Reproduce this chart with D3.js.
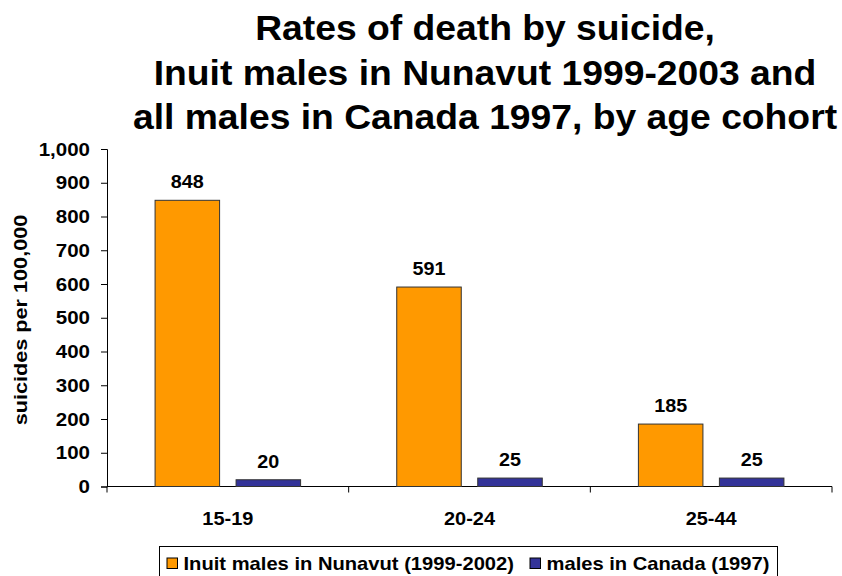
<!DOCTYPE html>
<html><head><meta charset="utf-8">
<script src="https://cdn.jsdelivr.net/npm/d3@7"></script>
<style>body{margin:0;background:#fff}svg{display:block}text{font-family:"Liberation Sans",Arial,sans-serif;font-weight:bold;fill:#000}</style>
</head><body>
<script>
const categories = ["15-19", "20-24", "25-44"];
const seriesNames = ["Inuit males in Nunavut (1999-2002)", "males in Canada (1997)"];
const inuitValues = [848, 591, 185];
const canadaValues = [20, 25, 25];
const yTicks = [0, 100, 200, 300, 400, 500, 600, 700, 800, 900, 1000];
const titleLines = ["Rates of death by suicide,", "Inuit males in Nunavut 1999-2003 and", "all males in Canada 1997, by age cohort"];
const colors = ["#FF9900", "#333399"];

const W = 842, H = 576;
const svg = d3.select("body").append("svg").attr("width", W).attr("height", H);

const x0 = 107, x1 = 832, yB = 486.5, yT = 149;
const x = d3.scaleBand().domain(categories).range([x0, x1]).padding(0);
const y = d3.scaleLinear().domain([0, 1000]).range([yB, yT]);

// helper: stretched text
function stext(sel, px, py, s) {
  return sel.attr("x", 0).attr("y", 0)
    .attr("transform", (d, i) => `translate(${typeof px === "function" ? px(d, i) : px},${typeof py === "function" ? py(d, i) : py}) scale(${s},1)`);
}

// title
stext(svg.append("g").selectAll("text").data(titleLines).join("text"),
  485, (d, i) => 40 + i * 44.5, 1.065)
  .attr("text-anchor", "middle").style("font-size", "35px").text(d => d);

// y axis
const tickS = 1.08;
const yAxis = d3.axisLeft(y).tickValues(yTicks).tickSize(6).tickPadding(11).tickFormat(d3.format(","));
const gy = svg.append("g").attr("transform", `translate(${x0},0)`).call(yAxis);
gy.select(".domain").attr("stroke", "#000");
gy.selectAll(".tick line").attr("stroke", "#000");
gy.selectAll(".tick text")
  .attr("x", -17 / tickS).attr("transform", `scale(${tickS},1)`)
  .style("font-size", "19px").style("font-family", '"Liberation Sans",Arial,sans-serif').attr("fill", "#000");

// x axis
const gx = svg.append("g").attr("transform", `translate(0,${yB})`);
gx.append("line").attr("x1", x0).attr("x2", x1).attr("stroke", "#000");
const bounds = categories.map(c => x(c)).concat([x1]);
gx.selectAll("line.tk").data(bounds).join("line").attr("class", "tk")
  .attr("x1", d => d).attr("x2", d => d).attr("y1", 0).attr("y2", 6).attr("stroke", "#000");
stext(gx.selectAll("text").data(categories).join("text"),
  d => x(d) + x.bandwidth() / 2, 38.5, 1.05)
  .attr("text-anchor", "middle").style("font-size", "19px").text(d => d);

// y label
svg.append("text").attr("transform", "translate(27,320) rotate(-90) scale(1.14,1)")
  .attr("text-anchor", "middle").style("font-size", "19px").text("suicides per 100,000");

// bars
const bw = x.bandwidth();
const barW = bw * 0.267;
const offs = [-0.1676, 0.1676];
const seriesData = [inuitValues, canadaValues];
seriesData.forEach((vals, si) => {
  const g = svg.append("g");
  g.selectAll("rect").data(vals).join("rect")
    .attr("x", (d, i) => x(categories[i]) + bw / 2 + offs[si] * bw - barW / 2)
    .attr("width", barW)
    .attr("y", d => y(d)).attr("height", d => yB - y(d))
    .attr("fill", colors[si]).attr("stroke", "#333").attr("stroke-width", 1);
  stext(g.selectAll("text").data(vals).join("text"),
    (d, i) => x(categories[i]) + bw / 2 + offs[si] * bw, d => y(d) - 12, 1.04)
    .attr("text-anchor", "middle").style("font-size", "19px").text(d => d);
});

// legend
const lg = svg.append("g");
lg.append("rect").attr("x", 159.5).attr("y", 546.5).attr("width", 618).attr("height", 40)
  .attr("fill", "#fff").attr("stroke", "#000");
const legX = [167, 530];
seriesNames.forEach((n, i) => {
  lg.append("rect").attr("x", legX[i]).attr("y", 558).attr("width", 10.5).attr("height", 10.5)
    .attr("fill", colors[i]).attr("stroke", "#000");
  lg.append("text").attr("transform", `translate(${legX[i] + 16.5},569.5) scale(1.12,1)`)
    .style("font-size", "18px").text(n);
});
</script>
</body></html>
